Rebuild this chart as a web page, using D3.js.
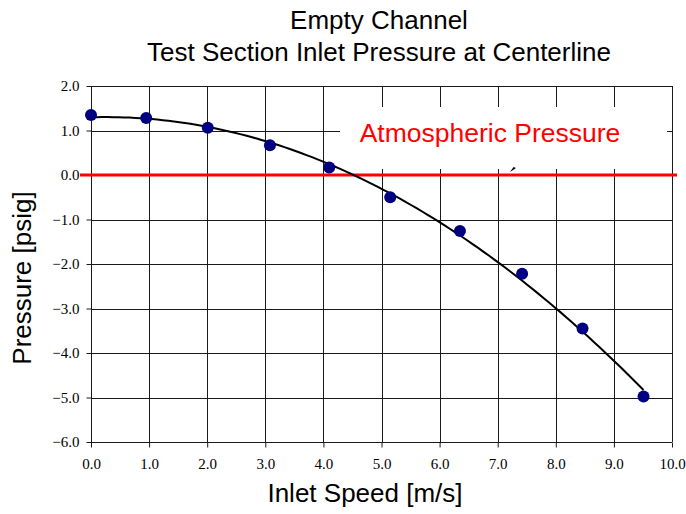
<!DOCTYPE html>
<meta charset="utf-8">
<style>
body { margin: 0; background: #fff; }
svg { display: block; }
.title { font-family: "Liberation Sans", Arial, sans-serif; font-size: 26px; fill: #000; }
.axis-label { font-family: "Liberation Sans", Arial, sans-serif; font-size: 26px; fill: #000; }
.tick text { font-family: "Liberation Serif", "Times New Roman", serif; font-size: 15px; fill: #000; }
.grid line { stroke: #1a1a1a; stroke-width: 1px; shape-rendering: crispEdges; }
</style>
<script src="https://d3js.org/d3.v7.min.js"></script>
<body>
<svg id="chart"></svg>
<script>

var width = 686,
    height = 514;

// measured inlet speed [m/s] and pressure [psig]
var speed = [0.0, 0.95, 2.01, 3.08, 4.10, 5.15, 6.35, 7.42, 8.46, 9.51];
var pressure = [1.35, 1.28, 1.06, 0.67, 0.17, -0.50, -1.26, -2.22, -3.45, -4.98];

var xTicks = [0, 1, 2, 3, 4, 5, 6, 7, 8, 9, 10];
var yTicks = [2, 1, 0, -1, -2, -3, -4, -5, -6];

var titleLines = ["Empty Channel", "Test Section Inlet Pressure at Centerline"];

var svg = d3.select("#chart")
    .attr("width", width)
    .attr("height", height);

var x = d3.scaleLinear().domain([0, 10]).range([91, 672]);
var y = d3.scaleLinear().domain([-6, 2]).range([442, 86]);

// gridlines
var grid = svg.append("g").attr("class", "grid");
grid.selectAll(".v").data(xTicks).enter().append("line")
    .attr("x1", function(d) { return Math.round(x(d)) + 0.5; })
    .attr("x2", function(d) { return Math.round(x(d)) + 0.5; })
    .attr("y1", y(2)).attr("y2", y(-6));
grid.selectAll(".h").data(yTicks).enter().append("line")
    .attr("y1", function(d) { return Math.round(y(d)) + 0.5; })
    .attr("y2", function(d) { return Math.round(y(d)) + 0.5; })
    .attr("x1", x(0)).attr("x2", x(10));

// axes with outward ticks
svg.append("g")
    .attr("transform", "translate(" + (Math.round(x(0)) + 0.5) + ",0)")
    .call(d3.axisLeft(y).tickValues(yTicks).tickSize(5).tickPadding(7)
        .tickFormat(d3.format(".1f")))
    .call(function(g) { g.select(".domain").remove(); })
    .call(function(g) { g.selectAll(".tick line").attr("stroke", "#1a1a1a"); });

svg.append("g")
    .attr("transform", "translate(0," + (Math.round(y(-6)) + 0.5) + ")")
    .call(d3.axisBottom(x).tickValues(xTicks).tickSize(5).tickPadding(11)
        .tickFormat(d3.format(".1f")))
    .call(function(g) { g.select(".domain").remove(); })
    .call(function(g) { g.selectAll(".tick line").attr("stroke", "#1a1a1a"); });

// text box covering the grid
svg.append("rect")
    .attr("x", 340).attr("y", 107)
    .attr("width", 327).attr("height", 62)
    .attr("fill", "#fff");

svg.append("text")
    .attr("x", 490).attr("y", 142)
    .attr("text-anchor", "middle")
    .style("font-family", "'Liberation Sans', Arial, sans-serif")
    .style("font-size", "26.5px")
    .attr("fill", "#ff0000")
    .text("Atmospheric Pressure");

// atmospheric pressure line
svg.append("line")
    .attr("x1", 80).attr("x2", 677)
    .attr("y1", y(0)).attr("y2", y(0))
    .attr("stroke", "#ff0000")
    .attr("stroke-width", 3);

// leftover arrow head of the callout
svg.append("path")
    .attr("d", "M" + 510 + "," + 172 + "l6,-4l-2.5,-1z")
    .attr("fill", "#000");

// 2nd order polynomial trendline (least squares)
function polyfit2(xs, ys) {
    var n = xs.length, s = [0, 0, 0, 0, 0], t = [0, 0, 0];
    for (var i = 0; i < n; i++) {
        var p = 1;
        for (var k = 0; k < 5; k++) {
            s[k] += p;
            if (k < 3) t[k] += p * ys[i];
            p *= xs[i];
        }
    }
    var A = [[s[0], s[1], s[2], t[0]], [s[1], s[2], s[3], t[1]], [s[2], s[3], s[4], t[2]]];
    for (var c = 0; c < 3; c++) {
        for (var r = c + 1; r < 3; r++) {
            var f = A[r][c] / A[c][c];
            for (var k2 = c; k2 < 4; k2++) A[r][k2] -= f * A[c][k2];
        }
    }
    var coef = [0, 0, 0];
    for (var r2 = 2; r2 >= 0; r2--) {
        var v = A[r2][3];
        for (var j = r2 + 1; j < 3; j++) v -= A[r2][j] * coef[j];
        coef[r2] = v / A[r2][r2];
    }
    return coef;
}

var coef = polyfit2(speed, pressure);
var xMax = d3.max(speed);
var fitPts = d3.range(0, 101).map(function(i) {
    var xv = xMax * i / 100;
    return [xv, coef[0] + coef[1] * xv + coef[2] * xv * xv];
});

svg.append("path")
    .datum(fitPts)
    .attr("fill", "none")
    .attr("stroke", "#000")
    .attr("stroke-width", 2)
    .attr("d", d3.line()
        .x(function(d) { return x(d[0]); })
        .y(function(d) { return y(d[1]); }));

// data points
svg.append("g").selectAll("circle")
    .data(speed)
    .enter().append("circle")
    .attr("cx", function(d) { return x(d); })
    .attr("cy", function(d, i) { return y(pressure[i]); })
    .attr("r", 6)
    .attr("fill", "#000080");

// titles
svg.append("g").selectAll("text")
    .data(titleLines)
    .enter().append("text")
    .attr("class", "title")
    .attr("x", 379)
    .attr("y", function(d, i) { return 29 + i * 32; })
    .attr("text-anchor", "middle")
    .text(function(d) { return d; });

svg.append("text")
    .attr("class", "axis-label")
    .attr("transform", "translate(31,278) rotate(-90)")
    .attr("text-anchor", "middle")
    .text("Pressure [psig]");

svg.append("text")
    .attr("class", "axis-label")
    .attr("x", 365).attr("y", 502)
    .attr("text-anchor", "middle")
    .text("Inlet Speed [m/s]");

</script>
</body>
